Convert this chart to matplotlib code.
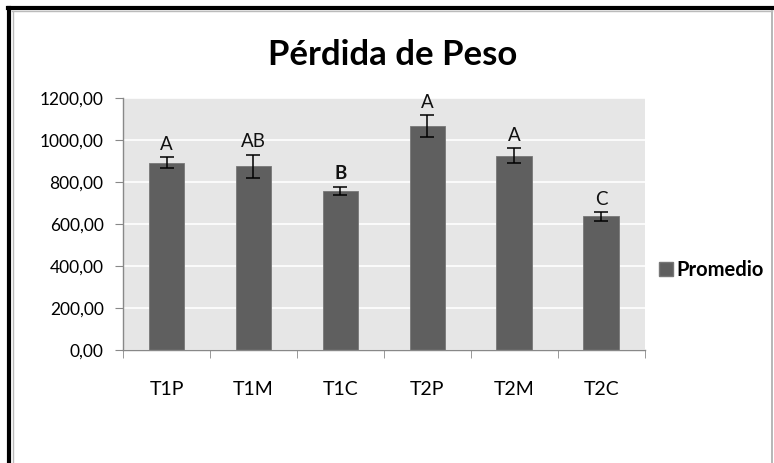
import matplotlib
matplotlib.use("Agg")
import matplotlib.pyplot as plt
from matplotlib.lines import Line2D
from matplotlib.ticker import FuncFormatter, MultipleLocator

plt.rcParams['font.family'] = ['Lato', 'DejaVu Sans']

categories = ["T1P", "T1M", "T1C", "T2P", "T2M", "T2C"]
promedio = [893, 876, 758, 1069, 925, 637]
errores = [28, 55, 21, 52, 36, 22]
letras = ["A", "AB", "B", "A", "A", "C"]

fig = plt.figure(figsize=(7.74, 4.63), dpi=100)
ax = fig.add_axes([0.159, 0.244, 0.674, 0.544])

bar_color = "#5f5f5f"
x = list(range(len(categories)))
ax.set_facecolor("#e6e6e6")
ax.yaxis.grid(True, color="white", linewidth=1.2)
ax.set_axisbelow(True)
ax.bar(x, promedio, width=0.41, color=bar_color, edgecolor="#777777", linewidth=0.6,
       label="Promedio", zorder=2)
ax.errorbar(x, promedio, yerr=errores, fmt="none", ecolor="black", elinewidth=1.1,
            capsize=5, capthick=1.1, zorder=3)

for xi, v, e, l in zip(x, promedio, errores, letras):
    ax.annotate(l, (xi, v + e), xytext=(0, 3), textcoords="offset points",
                ha="center", va="bottom", fontsize=13.5, color="#111111",
                fontweight="bold" if l == "B" else "normal")

ax.set_xlim(-0.5, len(categories) - 0.5)
ax.set_ylim(0, 1200)
ax.yaxis.set_major_locator(MultipleLocator(200))
ax.yaxis.set_major_formatter(FuncFormatter(lambda v, p: f"{v:.2f}".replace(".", ",")))
ax.set_xticks(x)
ax.set_xticklabels(categories)
ax.set_xticks([i - 0.5 for i in range(len(categories) + 1)], minor=True)
ax.tick_params(axis="x", which="major", length=0, pad=22, labelsize=14)
ax.tick_params(axis="x", which="minor", length=6, color="#888888", direction="out")
ax.tick_params(axis="y", length=6, color="#888888", direction="out", pad=8, labelsize=12.5)

for s in ["top", "right"]:
    ax.spines[s].set_visible(False)
for s in ["left", "bottom"]:
    ax.spines[s].set_color("#888888")
    ax.spines[s].set_linewidth(1)

fig.text(0.507, 0.882, "Pérdida de Peso", ha="center", va="center",
         fontsize=25, fontweight="bold", color="black")

handle = Line2D([], [], marker="s", linestyle="none", markersize=10,
                markerfacecolor=bar_color, markeredgecolor="#777777")
fig.legend([handle], ["Promedio"], loc="center left", bbox_to_anchor=(0.852, 0.417),
           frameon=False, handletextpad=0.15, prop={"size": 14.5, "weight": "bold"},
           handlelength=0.7, borderpad=0, borderaxespad=0)

# outer frame
fig.add_artist(Line2D([0.012, 0.012], [0.0, 0.982], transform=fig.transFigure,
                      color="black", linewidth=3))
fig.add_artist(Line2D([0.010, 1.0], [0.982, 0.982], transform=fig.transFigure,
                      color="black", linewidth=3))
fig.add_artist(Line2D([0.998, 0.998], [0.0, 0.976], transform=fig.transFigure,
                      color="#aaaaaa", linewidth=1.2))
fig.add_artist(Line2D([0.017, 0.017], [0.0, 0.976], transform=fig.transFigure,
                      color="#bbbbbb", linewidth=1))
fig.add_artist(Line2D([0.016, 0.998], [0.976, 0.976], transform=fig.transFigure,
                      color="#bbbbbb", linewidth=1))

fig.savefig("out.png", dpi=100)
